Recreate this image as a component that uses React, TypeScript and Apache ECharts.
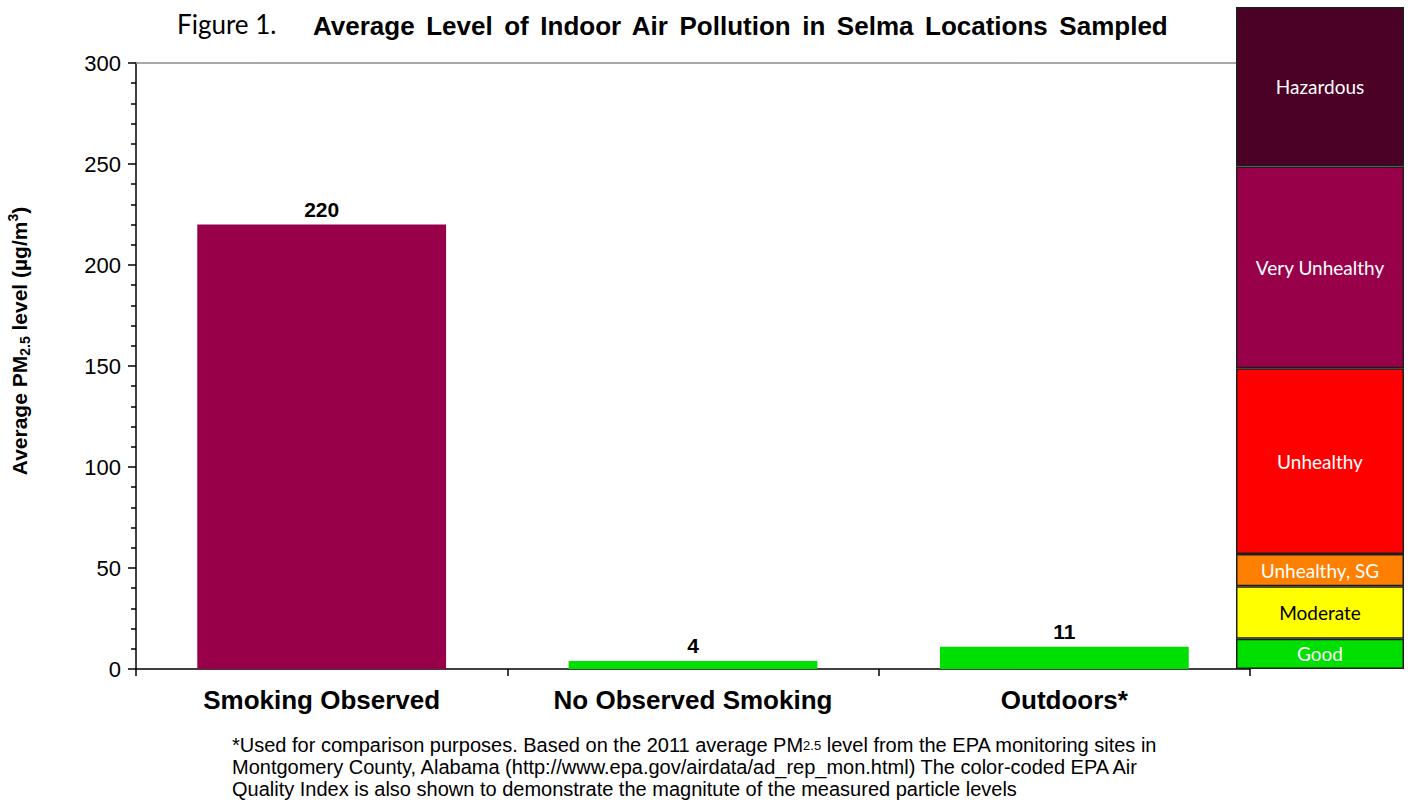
import React, { useEffect, useRef } from "react";
import * as echarts from "echarts";

const categories = ["Smoking Observed", "No Observed Smoking", "Outdoors*"];
const values = [220, 4, 11];
const barColors = ["#99004A", "#00E000", "#00E000"];
const yTicks = { min: 0, max: 300, interval: 50 };

const aqiLabels = ["Good", "Moderate", "Unhealthy, SG", "Unhealthy", "Very Unhealthy", "Hazardous"];
const aqiBreaks = [0, 15, 41, 57, 149, 249, 328];
const aqiColors = ["#00E000", "#FFFF00", "#FF8000", "#FF0000", "#99004A", "#4B0026"];
const aqiTextColors = ["#ffffff", "#000000", "#ffffff", "#ffffff", "#ffffff", "#ffffff"];

const titleText = "Average Level of Indoor Air Pollution in Selma Locations Sampled";

const ARIAL = "'Liberation Sans', Arial, sans-serif";
const CAL = "Lato, 'Open Sans', sans-serif";

export default function App() {
  const ref = useRef<HTMLDivElement>(null);
  useEffect(() => {
    if (!ref.current) return;
    const chart = echarts.init(ref.current, undefined, { renderer: "svg" });
    const aqiSeries = aqiLabels.map((name, i) => ({
      name,
      type: "bar",
      xAxisIndex: 2,
      yAxisIndex: 1,
      stack: "aqi",
      barWidth: "100%",
      z: 5,
      data: [aqiBreaks[i + 1] - aqiBreaks[i]],
      itemStyle: { color: aqiColors[i], borderColor: "#1e1e1e", borderWidth: 1.5 },
      label: {
        show: true,
        position: "inside",
        formatter: name,
        color: aqiTextColors[i],
        fontFamily: CAL,
        fontSize: 19,
      },
    }));
    chart.setOption({
      animation: false,
      grid: [
        { left: 136, right: 160, top: 63, bottom: 133 },
        { left: 1236, width: 168, top: 7, bottom: 133 },
      ],
      xAxis: [
        {
          type: "category",
          gridIndex: 0,
          data: categories,
          axisLine: { lineStyle: { color: "#000", width: 1.5 } },
          axisTick: { show: true, length: 7, lineStyle: { color: "#000", width: 1.5 } },
          axisLabel: {
            color: "#000",
            fontFamily: ARIAL,
            fontWeight: "bold",
            fontSize: 26,
            margin: 18,
          },
        },
        {
          type: "category",
          gridIndex: 0,
          position: "top",
          data: categories,
          axisLine: { lineStyle: { color: "#8c8c8c", width: 1.5 } },
          axisTick: { show: false },
          axisLabel: { show: false },
        },
        { type: "category", gridIndex: 1, data: ["AQI"], show: false },
      ],
      yAxis: [
        {
          type: "value",
          gridIndex: 0,
          min: yTicks.min,
          max: yTicks.max,
          interval: yTicks.interval,
          axisLine: { show: true, lineStyle: { color: "#000", width: 1.5 } },
          axisTick: { show: true, length: 8, lineStyle: { color: "#000", width: 1.5 } },
          minorTick: { show: true, splitNumber: 5, length: 5, lineStyle: { color: "#000", width: 1.5 } },
          splitLine: { show: false },
          axisLabel: { color: "#000", fontFamily: ARIAL, fontSize: 22, margin: 15 },
        },
        { type: "value", gridIndex: 1, min: 0, max: 328, show: false },
      ],
      series: [
        {
          type: "bar",
          xAxisIndex: 0,
          yAxisIndex: 0,
          barWidth: "67%",
          data: values.map((v, i) => ({ value: v, itemStyle: { color: barColors[i] } })),
          label: {
            show: true,
            position: "top",
            distance: 5,
            color: "#000",
            fontFamily: ARIAL,
            fontWeight: "bold",
            fontSize: 21,
          },
        },
        ...aqiSeries,
      ],
      graphic: [
        {
          type: "text",
          left: 177,
          top: 11,
          style: { text: "Figure 1.", fontFamily: CAL, fontSize: 26, fill: "#000" },
        },
        {
          type: "text",
          left: 313,
          top: 13,
          style: {
            text: titleText.split(" ").join("\u2006 "),
            fontFamily: ARIAL,
            fontWeight: "bold",
            fontSize: 26,
            fill: "#000",
          },
        },
        {
          type: "text",
          x: 19,
          y: 341,
          rotation: Math.PI / 2,
          style: {
            text: "{b|Average PM}{s|2.5}{b| level (µg/m}{p|3}{b|)}",
            align: "center",
            verticalAlign: "middle",
            rich: {
              b: { fontFamily: ARIAL, fontWeight: "bold", fontSize: 21, fill: "#000", lineHeight: 26 },
              s: { fontFamily: ARIAL, fontWeight: "bold", fontSize: 14, fill: "#000", lineHeight: 14, verticalAlign: "bottom" },
              p: { fontFamily: ARIAL, fontWeight: "bold", fontSize: 14, fill: "#000", lineHeight: 14, verticalAlign: "top" },
            },
          },
        },
        {
          type: "text",
          left: 232,
          top: 734,
          style: {
            text:
              "*Used for comparison purposes. Based on the 2011 average PM{s|2.5} level from the EPA monitoring sites in\nMontgomery County, Alabama (http://www.epa.gov/airdata/ad_rep_mon.html) The color-coded EPA Air\nQuality Index is also shown to demonstrate the magnitute of the measured particle levels",
            fontFamily: ARIAL,
            fontSize: 20,
            lineHeight: 22,
            fill: "#000",
            rich: {
              s: { fontFamily: ARIAL, fontSize: 13, lineHeight: 22, fill: "#000" },
            },
          },
        },
      ],
    });
    return () => chart.dispose();
  }, []);
  return (
    <div
      ref={ref}
      style={{ position: "fixed", left: 0, top: 0, width: 1410, height: 802, background: "#fff" }}
    />
  );
}
